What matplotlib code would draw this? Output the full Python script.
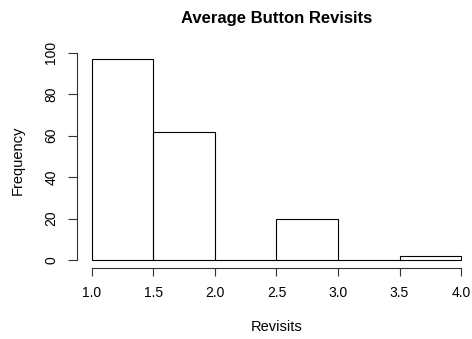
import matplotlib
matplotlib.use("Agg")
import matplotlib.pyplot as plt

plt.rcParams["font.family"] = ["Liberation Sans", "DejaVu Sans"]

# Histogram bins and counts
bin_edges = [1.0, 1.5, 2.0, 2.5, 3.0, 3.5, 4.0]
counts = [97, 62, 0, 20, 0, 2]
x_ticks = [1.0, 1.5, 2.0, 2.5, 3.0, 3.5, 4.0]
x_tick_labels = ["1.0", "1.5", "2.0", "2.5", "3.0", "3.5", "4.0"]
y_ticks = [0, 20, 40, 60, 80, 100]

W, H = 472, 339
fig = plt.figure(figsize=(W / 100, H / 100), dpi=100)

# plot region in pixels (R style: 4% padding around the data range)
left_px, right_px, top_px, bottom_px = 77.2, 475.8, 51, 268
ax = fig.add_axes([left_px / W, (H - bottom_px) / H,
                   (right_px - left_px) / W, (bottom_px - top_px) / H])

widths = [b - a for a, b in zip(bin_edges[:-1], bin_edges[1:])]
ax.bar(bin_edges[:-1], counts, width=widths, align="edge",
       fill=False, edgecolor="black", linewidth=0.8)

span = bin_edges[-1] - bin_edges[0]
ax.set_xlim(bin_edges[0] - 0.04 * span, bin_edges[-1] + 0.04 * span)
ymax = max(counts)
ax.set_ylim(-0.04 * ymax, ymax * 1.04)

for side in ("top", "right"):
    ax.spines[side].set_visible(False)
ax.spines["left"].set_bounds(0, 100)
ax.spines["bottom"].set_bounds(bin_edges[0], bin_edges[-1])
for side in ("left", "bottom"):
    ax.spines[side].set_linewidth(0.8)
    ax.spines[side].set_color("#333333")

ax.set_xticks(x_ticks)
ax.set_xticklabels(x_tick_labels)
ax.set_yticks(y_ticks)
ax.tick_params(axis="x", length=6, width=0.8, color="#333333",
               pad=7, labelsize=10)
ax.tick_params(axis="y", length=6.5, width=0.8, color="#333333",
               pad=7, labelsize=10, labelrotation=90)
for lbl in ax.get_yticklabels():
    lbl.set_va("center")

fig.text(276.5 / W, 1 - 18 / H, "Average Button Revisits",
         ha="center", va="center", fontsize=12, fontweight="bold")
fig.text(276.5 / W, 1 - 327 / H, "Revisits", ha="center", va="center",
         fontsize=10.5)
fig.text(18 / W, 1 - 160 / H, "Frequency", ha="center", va="center",
         fontsize=10.5, rotation=90)

fig.savefig("out.png", dpi=100)
